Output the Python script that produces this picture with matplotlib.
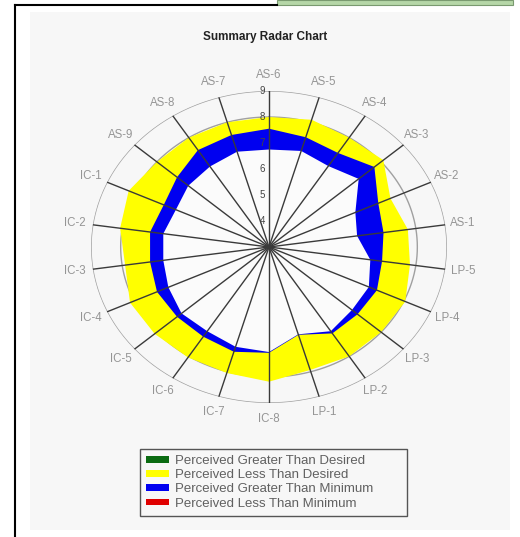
import numpy as np
import matplotlib
matplotlib.use('Agg')
import matplotlib.pyplot as plt
from matplotlib.patches import Patch, Rectangle
from matplotlib.lines import Line2D
from matplotlib.transforms import ScaledTranslation

plt.rcParams['font.family'] = ['Liberation Sans', 'DejaVu Sans']

labels = ['AS-6', 'AS-5', 'AS-4', 'AS-3', 'AS-2', 'AS-1', 'LP-5', 'LP-4', 'LP-3',
          'LP-2', 'LP-1', 'IC-8', 'IC-7', 'IC-6', 'IC-5', 'IC-4', 'IC-3', 'IC-2',
          'IC-1', 'AS-9', 'AS-8', 'AS-7']
desired = [8.0, 8.1, 8.0, 8.1, 7.5, 7.73, 7.8, 8.05, 8.0, 8.0, 7.93,
           8.18, 8.05, 8.05, 8.1, 8.15, 7.9, 8.07, 8.2, 8.0, 8.0, 8.0]
perceived = [7.55, 7.4, 7.3, 7.7, 7.05, 6.9, 6.85, 7.0, 6.95, 6.95, 6.52,
             7.07, 7.2, 7.1, 7.1, 7.15, 7.05, 7.05, 6.9, 7.1, 7.43, 7.49]
minimum = [6.75, 6.85, 6.7, 7.0, 6.2, 6.0, 6.45, 6.7, 6.7, 6.85, 6.5,
           7.04, 7.0, 6.85, 6.9, 6.73, 6.6, 6.6, 6.45, 6.6, 6.68, 6.82]
rticks = [4, 5, 6, 7, 8, 9]
legend_labels = ['Perceived Greater Than Desired', 'Perceived Less Than Desired',
                 'Perceived Greater Than Minimum', 'Perceived Less Than Minimum']
legend_colors = ['#0b6b12', '#ffff00', '#0000f0', '#e00000']

fig = plt.figure(figsize=(5.2, 5.37), dpi=100)
fig.patch.set_facecolor('white')

# page decorations
fig.add_artist(Rectangle((30/520, 1 - 530/537), 480/520, 518/537,
                         transform=fig.transFigure, facecolor='#f7f7f7',
                         edgecolor='none', zorder=0))
fig.add_artist(Line2D([15/520, 15/520], [0, 1 - 5/537], transform=fig.transFigure,
                      color='black', lw=1.5))
fig.add_artist(Line2D([15/520, 277/520], [1 - 5/537, 1 - 5/537],
                      transform=fig.transFigure, color='black', lw=1.5))
fig.add_artist(Rectangle((277/520, 1 - 5/537), 236/520, 5/537,
                         transform=fig.transFigure, facecolor='#b6d7a8',
                         edgecolor='#7a9a70', lw=0.8))

fig.text(265/520, 1 - 37/537, 'Summary Radar Chart', ha='center', va='center',
         fontsize=8.5, fontweight='bold', color='#222222')

ax = fig.add_axes([91/520, 1 - 403/537, 356/520, 312/537], projection='polar')
ax.set_aspect('auto')
ax.set_facecolor('none')
ax.set_theta_zero_location('N')
ax.set_theta_direction(-1)
ax.set_ylim(3, 9)
ax.grid(False)
ax.set_xticks([])
ax.set_yticks([])
ax.spines['polar'].set_visible(False)

n = len(labels)
theta = np.arange(n) * 2 * np.pi / n
th_c = np.append(theta, theta[0])

# circles
circ = np.linspace(0, 2 * np.pi, 361)
for r in rticks:
    ax.plot(circ, np.full_like(circ, r), color='#a0a0a0', lw=1.0, zorder=1)

ax.fill(th_c, desired + desired[:1], color='#ffff00', zorder=2, lw=0)
ax.fill(th_c, perceived + perceived[:1], color='#0000f0', zorder=3, lw=0)
ax.fill(th_c, minimum + minimum[:1], color='#fbfbfb', zorder=4, lw=0)

# spokes
for t in theta:
    ax.plot([t, t], [3, 9], color='#3a3a3a', lw=1.0, zorder=5)

off = ScaledTranslation(-7/100, 0, fig.dpi_scale_trans)
for r in rticks:
    ax.text(0, r, str(r), ha='center', va='center', fontsize=7,
            color='#444444', transform=ax.transData + off, zorder=6)

for t, lab in zip(theta, labels):
    ax.text(t, 9.6, lab, ha='center', va='center', fontsize=8.3,
            color='#959595', clip_on=False)

handles = [Patch(facecolor=c, edgecolor='none') for c in legend_colors]
leg = fig.legend(handles, legend_labels, loc='upper left',
                 bbox_to_anchor=(140/520, 1 - 517/537, 267/520, 68/537),
                 mode='expand', borderaxespad=0, fontsize=9.5, labelspacing=0.17,
                 handlelength=1.75, handleheight=0.4, handletextpad=0.45,
                 borderpad=0.45, fancybox=False, framealpha=1)
leg.get_frame().set_edgecolor('#555555')
leg.get_frame().set_facecolor('#f7f7f7')
for txt in leg.get_texts():
    txt.set_color('#606060')

fig.savefig('out.png', dpi=100)
